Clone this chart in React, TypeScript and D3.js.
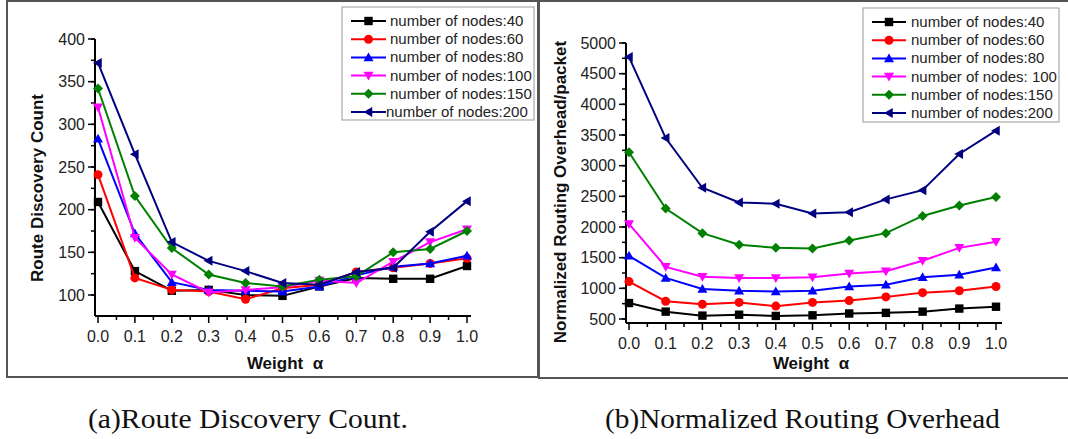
import React from "react";
import * as d3 from "d3";

const alphas = [0.0, 0.1, 0.2, 0.3, 0.4, 0.5, 0.6, 0.7, 0.8, 0.9, 1.0];
const xTickLabels = ["0.0", "0.1", "0.2", "0.3", "0.4", "0.5", "0.6", "0.7", "0.8", "0.9", "1.0"];

const seriesNames = ["number of nodes:40", "number of nodes:60", "number of nodes:80", "number of nodes:100", "number of nodes:150", "number of nodes:200"];
const seriesNamesB = ["number of nodes:40", "number of nodes:60", "number of nodes:80", "number of nodes: 100", "number of nodes:150", "number of nodes:200"];
const seriesColors = ["#000000", "#ff0000", "#0000ff", "#ff00ff", "#008000", "#000080"];
const seriesMarkers = ["square", "circle", "triUp", "triDown", "diamond", "triLeft"];

// (a) Route Discovery Count
const rdc40 = [209, 128, 105, 106, 100, 99, 110, 120, 119, 119, 134];
const rdc60 = [241, 120, 106, 104, 95, 108, 112, 127, 132, 137, 143];
const rdc80 = [283, 172, 115, 106, 105, 104, 110, 123, 133, 137, 146];
const rdc100 = [320, 167, 124, 103, 106, 109, 117, 114, 139, 162, 177];
const rdc150 = [342, 216, 155, 124, 114, 110, 118, 122, 150, 154, 175];
const rdc200 = [372, 265, 162, 140, 128, 114, 112, 127, 132, 174, 210];
const rdcTicks = [100, 150, 200, 250, 300, 350, 400];

// (b) Normalized Routing Overhead
const nro40 = [760, 620, 555, 570, 550, 560, 590, 600, 620, 670, 700];
const nro60 = [1110, 790, 740, 770, 710, 770, 800, 860, 930, 960, 1030];
const nro80 = [1530, 1170, 990, 960, 950, 960, 1030, 1060, 1180, 1220, 1340];
const nro100 = [2050, 1350, 1190, 1170, 1170, 1180, 1240, 1280, 1450, 1660, 1760];
const nro150 = [3220, 2300, 1900, 1710, 1660, 1650, 1780, 1900, 2180, 2350, 2490];
const nro200 = [4770, 3450, 2640, 2400, 2380, 2220, 2240, 2450, 2600, 3190, 3570];
const nroTicks = [500, 1000, 1500, 2000, 2500, 3000, 3500, 4000, 4500, 5000];

const FONT = "'Liberation Sans', Arial, Helvetica, sans-serif";
const SERIF = "'Liberation Serif', 'Times New Roman', serif";

function Marker({ type, x, y, color }: { type: string; x: number; y: number; color: string }) {
  const s = 4.2;
  if (type === "square") return <rect x={x - s} y={y - s} width={2 * s} height={2 * s} fill={color} />;
  if (type === "circle") return <circle cx={x} cy={y} r={s + 0.3} fill={color} />;
  let pts: [number, number][] = [];
  const t = 5;
  if (type === "triUp") pts = [[x, y - t], [x + t, y + t * 0.75], [x - t, y + t * 0.75]];
  if (type === "triDown") pts = [[x, y + t], [x + t, y - t * 0.75], [x - t, y - t * 0.75]];
  if (type === "triLeft") pts = [[x - t, y], [x + t * 0.75, y - t], [x + t * 0.75, y + t]];
  if (type === "diamond") pts = [[x, y - t], [x + t, y], [x, y + t], [x - t, y]];
  return <polygon points={pts.map((p) => p.join(",")).join(" ")} fill={color} />;
}

type PanelProps = {
  series: number[][];
  names: string[];
  xRange: [number, number];
  yDomain: [number, number];
  yRange: [number, number];
  axisY: number;
  axisX: number;
  xAxisEnd: number;
  yTicks: number[];
  yMinorStep: number;
  yTitle: string;
  yTitleX: number;
  yTitleY: number;
  xTitleX: number;
  xTitleY: number;
  legend: { x: number; y: number; w: number; h: number; lineX1: number; lineX2: number; textX: number; row0: number; rowStep: number; lastShift: number };
};

function Panel(p: PanelProps) {
  const x = d3.scaleLinear().domain([0, 1]).range(p.xRange);
  const y = d3.scaleLinear().domain(p.yDomain).range(p.yRange);
  const line = d3
    .line<number>()
    .x((_, i) => x(alphas[i]))
    .y((d) => y(d));
  const yTop = y(p.yTicks[p.yTicks.length - 1]);
  const yMinor: number[] = [];
  for (let v = p.yTicks[0]; v <= p.yTicks[p.yTicks.length - 1] + 1e-9; v += p.yMinorStep) yMinor.push(v);
  const xMinor: number[] = [];
  for (let i = 0; i < 10; i++) xMinor.push(i * 0.1 + 0.05);
  return (
    <g>
      <line x1={p.axisX} x2={p.axisX} y1={yTop} y2={p.axisY} stroke="#000" strokeWidth={2} />
      <line x1={p.axisX} x2={p.xAxisEnd} y1={p.axisY} y2={p.axisY} stroke="#000" strokeWidth={2} />
      {alphas.map((a, i) => (
        <g key={"xt" + i}>
          <line x1={x(a)} x2={x(a)} y1={p.axisY} y2={p.axisY + 7} stroke="#000" strokeWidth={1.5} />
          <text x={x(a)} y={p.axisY + 26} textAnchor="middle" fontSize={16} fontFamily={FONT} fill="#222">
            {xTickLabels[i]}
          </text>
        </g>
      ))}
      {xMinor.map((a, i) => (
        <line key={"xm" + i} x1={x(a)} x2={x(a)} y1={p.axisY} y2={p.axisY + 4} stroke="#000" strokeWidth={1.5} />
      ))}
      {yMinor.map((v, i) => (
        <line key={"ym" + i} x1={p.axisX - 4} x2={p.axisX} y1={y(v)} y2={y(v)} stroke="#000" strokeWidth={1.5} />
      ))}
      {p.yTicks.map((v, i) => (
        <g key={"yt" + i}>
          <line x1={p.axisX - 7} x2={p.axisX} y1={y(v)} y2={y(v)} stroke="#000" strokeWidth={1.5} />
          <text x={p.axisX - 10} y={y(v) + 5.5} textAnchor="end" fontSize={16} fontFamily={FONT} fill="#222">
            {v}
          </text>
        </g>
      ))}
      <text
        x={p.yTitleX}
        y={p.yTitleY}
        transform={`rotate(-90 ${p.yTitleX} ${p.yTitleY})`}
        textAnchor="middle"
        dominantBaseline="central"
        fontSize={17}
        fontWeight="bold"
        fontFamily={FONT}
        fill="#111"
      >
        {p.yTitle}
      </text>
      <text
        x={p.xTitleX}
        y={p.xTitleY}
        textAnchor="middle"
        fontSize={17}
        fontWeight="bold"
        fontFamily={FONT}
        fill="#111"
        style={{ whiteSpace: "pre" }}
      >
        {"Weight  α"}
      </text>
      {p.series.map((s, k) => (
        <g key={"s" + k}>
          <path d={line(s) || ""} fill="none" stroke={seriesColors[k]} strokeWidth={2} />
          {s.map((v, i) => (
            <Marker key={i} type={seriesMarkers[k]} x={x(alphas[i])} y={y(v)} color={seriesColors[k]} />
          ))}
        </g>
      ))}
      <rect x={p.legend.x} y={p.legend.y} width={p.legend.w} height={p.legend.h} fill="#fff" stroke="#999" strokeWidth={1} />
      {p.names.map((n, k) => {
        const ry = p.legend.row0 + k * p.legend.rowStep;
        const cx = (p.legend.lineX1 + p.legend.lineX2) / 2;
        return (
          <g key={"l" + k}>
            <line x1={p.legend.lineX1} x2={p.legend.lineX2} y1={ry} y2={ry} stroke={seriesColors[k]} strokeWidth={2} />
            <Marker type={seriesMarkers[k]} x={cx} y={ry} color={seriesColors[k]} />
            <text x={k === 5 ? p.legend.textX - p.legend.lastShift : p.legend.textX} y={ry + 5} fontSize={15} fontFamily={FONT} fill="#222" style={{ whiteSpace: "pre" }}>
              {n}
            </text>
          </g>
        );
      })}
    </g>
  );
}

export default function App() {
  return (
    <svg width={1068} height={439} style={{ position: "absolute", left: 0, top: 0, background: "#fff" }}>
      <rect x={0} y={0} width={1068} height={439} fill="#fff" />
      <rect x={7} y={1} width={531} height={376} fill="none" stroke="#555" strokeWidth={2} />
      <rect x={539} y={1} width={535} height={377} fill="none" stroke="#555" strokeWidth={2} />
      <Panel
        series={[rdc40, rdc60, rdc80, rdc100, rdc150, rdc200]}
        names={seriesNames}
        xRange={[98, 467]}
        yDomain={[100, 400]}
        yRange={[295, 39]}
        axisY={316}
        axisX={95}
        xAxisEnd={471}
        yTicks={rdcTicks}
        yMinorStep={25}
        yTitle="Route Discovery Count"
        yTitleX={37}
        yTitleY={188}
        xTitleX={285}
        xTitleY={369}
        legend={{ x: 342, y: 7, w: 192, h: 113, lineX1: 351, lineX2: 386, textX: 390, row0: 21, rowStep: 18.2, lastShift: 4 }}
      />
      <Panel
        series={[nro40, nro60, nro80, nro100, nro150, nro200]}
        names={seriesNamesB}
        xRange={[629, 996]}
        yDomain={[500, 5000]}
        yRange={[319, 43]}
        axisY={323}
        axisX={626}
        xAxisEnd={1002}
        yTicks={nroTicks}
        yMinorStep={250}
        yTitle="Normalized Routing Overhead/packet"
        yTitleX={560}
        yTitleY={192}
        xTitleX={811}
        xTitleY={369}
        legend={{ x: 863, y: 8, w: 196, h: 114, lineX1: 872, lineX2: 906, textX: 911, row0: 22, rowStep: 18.2, lastShift: 0 }}
      />
      <text x={88} y={428} fontSize={28} fontFamily={SERIF} fill="#111" textLength={320} lengthAdjust="spacingAndGlyphs">
        (a)Route Discovery Count.
      </text>
      <text x={605} y={428} fontSize={28} fontFamily={SERIF} fill="#111" textLength={395} lengthAdjust="spacingAndGlyphs">
        (b)Normalized Routing Overhead
      </text>
    </svg>
  );
}
